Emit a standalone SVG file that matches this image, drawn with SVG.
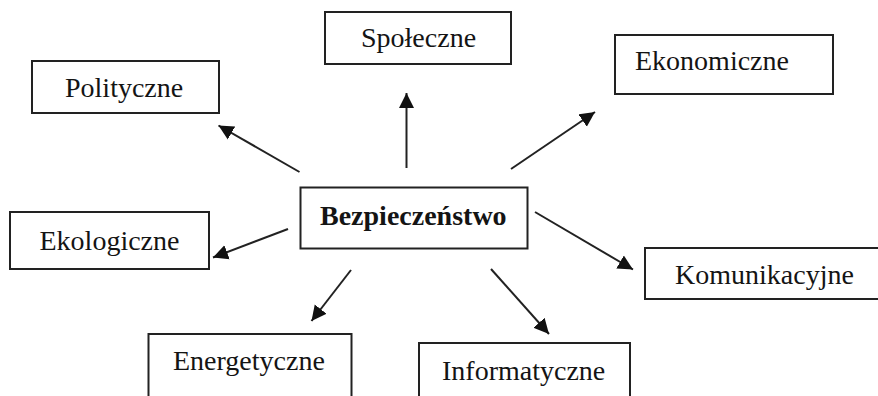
<svg xmlns="http://www.w3.org/2000/svg" width="878" height="396" viewBox="0 0 878 396">
<style>
.box{fill:#fff;stroke:#222;stroke-width:2}
.lbl{font-family:"Liberation Serif","Times New Roman",serif;font-size:28px;fill:#141414}
.bold{font-weight:bold}
.arr{stroke:#222;stroke-width:2;fill:none;marker-end:url(#ah)}
</style>
<defs>
<marker id="ah" markerUnits="userSpaceOnUse" markerWidth="16" markerHeight="16" viewBox="0 0 16 16" refX="15" refY="8" orient="auto">
<path d="M0,0.5 L15,8 L0,15.5 Z" fill="#111"/>
</marker>
</defs>
<rect width="878" height="396" fill="#fff"/>
<g id="connectors">
<line class="arr" x1="406.5" y1="168" x2="406.5" y2="93"/>
<line class="arr" x1="299.5" y1="172" x2="218.5" y2="125.5"/>
<line class="arr" x1="511" y1="169" x2="595" y2="112"/>
<line class="arr" x1="288" y1="229" x2="213" y2="257.5"/>
<line class="arr" x1="535" y1="212" x2="633" y2="269.5"/>
<line class="arr" x1="351" y1="270" x2="311.5" y2="321"/>
<line class="arr" x1="491" y1="269" x2="549" y2="334"/>
</g>
<g id="spoleczne"><rect class="box" x="325" y="12" width="186" height="52"/><text class="lbl" x="361" y="47">Społeczne</text></g>
<g id="polityczne"><rect class="box" x="32" y="61" width="187" height="52"/><text class="lbl" x="65" y="97">Polityczne</text></g>
<g id="ekonomiczne"><rect class="box" x="615" y="35" width="218" height="59"/><text class="lbl" x="635" y="69.5">Ekonomiczne</text></g>
<g id="bezpieczenstwo"><rect class="box" x="300.5" y="187.5" width="227" height="61"/><text class="lbl bold" x="320" y="225">Bezpieczeństwo</text></g>
<g id="ekologiczne"><rect class="box" x="10" y="212" width="199" height="57"/><text class="lbl" x="39.5" y="250">Ekologiczne</text></g>
<g id="komunikacyjne"><rect class="box" x="645" y="248" width="250" height="51"/><text class="lbl" x="675" y="283.5">Komunikacyjne</text></g>
<g id="energetyczne"><rect class="box" x="148.5" y="334" width="203" height="80"/><text class="lbl" x="173" y="370">Energetyczne</text></g>
<g id="informatyczne"><rect class="box" x="419" y="343" width="211" height="70"/><text class="lbl" x="442" y="380">Informatyczne</text></g>
</svg>
